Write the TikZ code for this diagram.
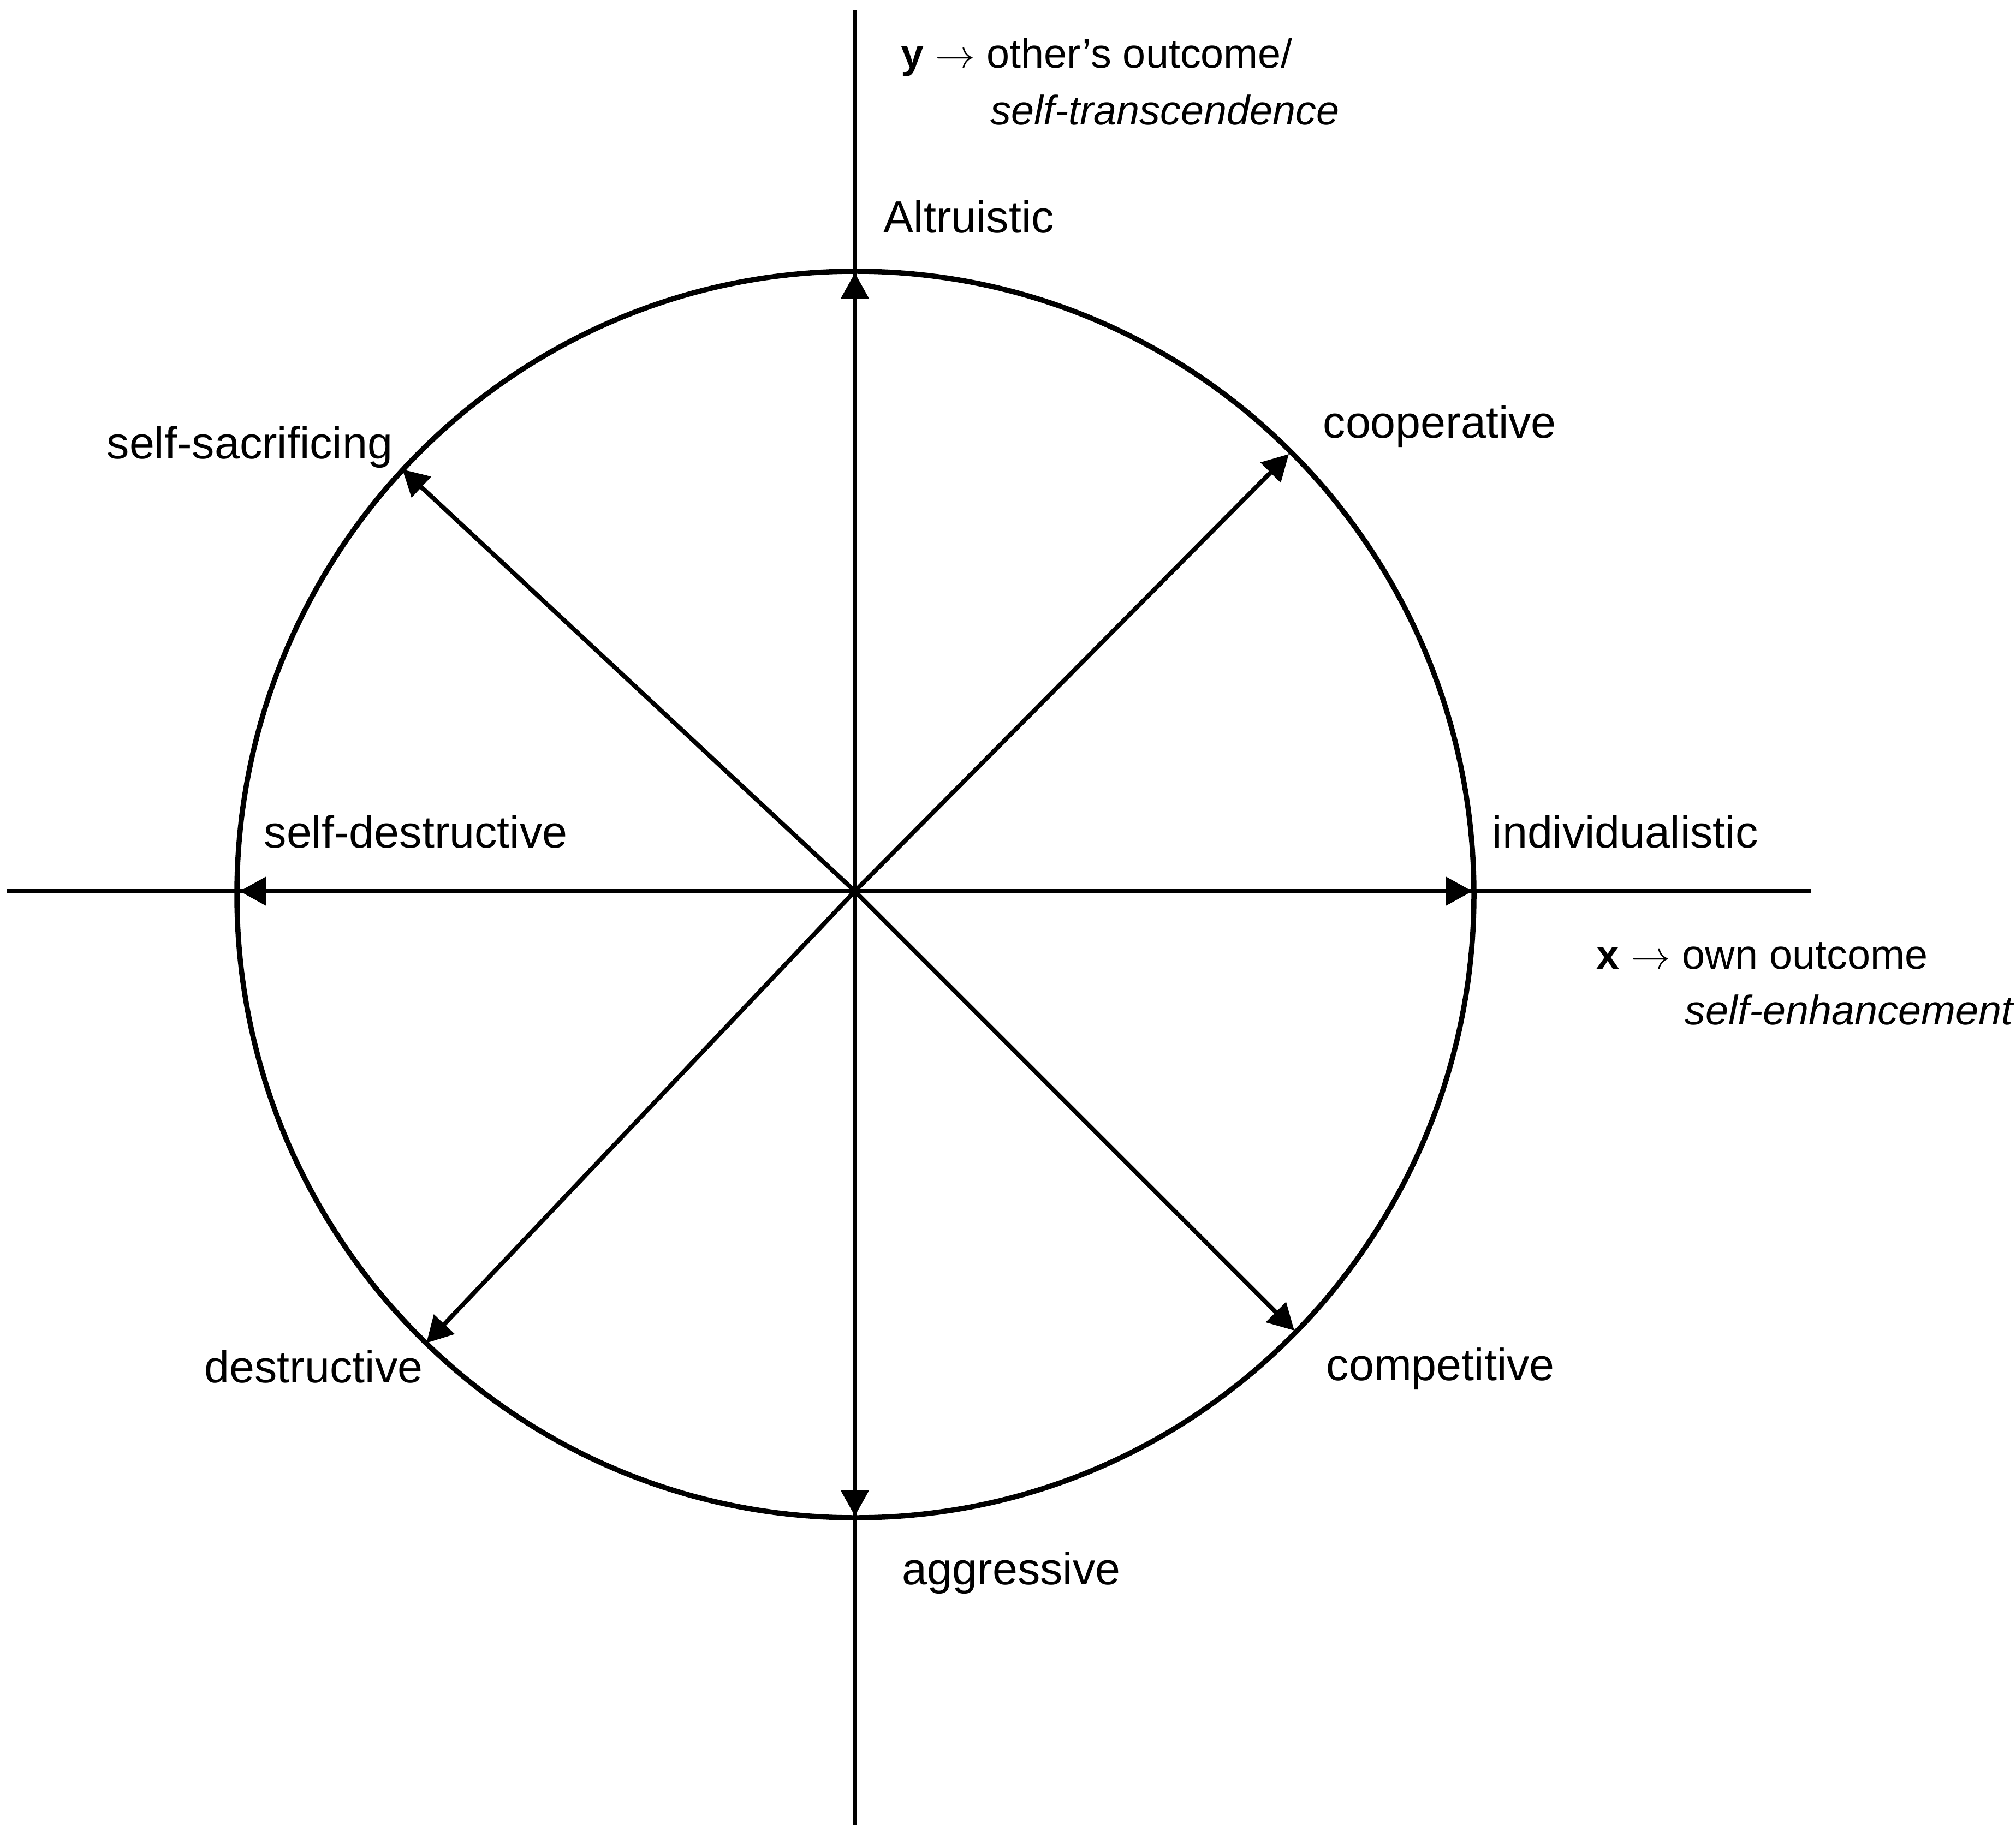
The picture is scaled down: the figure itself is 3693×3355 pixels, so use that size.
\documentclass[tikz,border=0pt]{standalone}
\usepackage{fontspec}
\setmainfont{Liberation Sans}
\usetikzlibrary{arrows.meta}
\begin{document}
\begin{tikzpicture}[x=0.01cm,y=-0.01cm,
  axisline/.style={line width=2.3pt},
  vec/.style={line width=2.3pt,-{Triangle[length=13.6pt,width=14.4pt]}},
  ring/.style={line width=2.7pt},
  cat/.style={anchor=base west,inner sep=0pt,font=\fontsize{23.5pt}{28pt}\selectfont},
  axlab/.style={anchor=base west,inner sep=0pt,font=\fontsize{21.5pt}{26pt}\selectfont}]
\useasboundingbox (0,0) rectangle (3693,3355);
% key points
\coordinate (O) at (1566,1633);
\coordinate (xl) at (12,1633);
\coordinate (xr) at (3318,1633);
\coordinate (yt) at (1566,19);
\coordinate (yb) at (1566,3344);
\coordinate (N) at (1566,500);
\coordinate (S) at (1566,2778);
\coordinate (W) at (439,1633);
\coordinate (E) at (2697,1633);
\coordinate (NE) at (2361,832);
\coordinate (SE) at (2371,2438);
\coordinate (SW) at (781,2461);
\coordinate (NW) at (737,860);
% axes
\draw[axisline] (xl) -- (xr);
\draw[axisline] (yt) -- (yb);
% circle
\draw[ring] (1567,1639) ellipse [x radius=1133, y radius=1142];
% vectors
\draw[vec] (O) -- (N);
\draw[vec] (O) -- (S);
\draw[vec] (O) -- (W);
\draw[vec] (O) -- (E);
\draw[vec] (O) -- (NE);
\draw[vec] (O) -- (SE);
\draw[vec] (O) -- (SW);
\draw[vec] (O) -- (NW);
% category labels
\node[cat] (alt) at (1618,427) {Altruistic};
\node[cat] (coop) at (2423,803) {cooperative};
\node[cat] (ind) at (2733,1553) {individualistic};
\node[cat] (comp) at (2429,2529) {competitive};
\node[cat] (agg) at (1652,2903) {aggressive};
\node[cat] (des) at (374,2533) {destructive};
\node[cat] (sdes) at (483,1553) {self-destructive};
\node[cat] (ssac) at (195,841) {self-sacrificing};
% axis labels
\node[axlab] (ylab) at (1650,125) {\textbf{y} $\rightarrow$ other’s outcome/};
\node[axlab] (ylab2) at (1814,229) {\textit{self-transcendence}};
\node[axlab] (xlab) at (2924,1775) {\textbf{x} $\rightarrow$ own outcome};
\node[axlab] (xlab2) at (3086,1877) {\textit{self-enhancement}};
\end{tikzpicture}
\end{document}
